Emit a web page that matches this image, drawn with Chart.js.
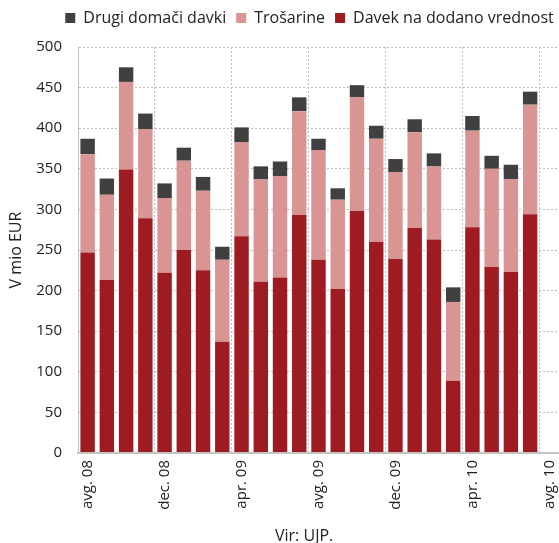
<!DOCTYPE html>
<html>
<head>
<meta charset="utf-8">
<script src="https://cdn.jsdelivr.net/npm/chart.js@4"></script>
<style>
  body { margin: 0; background: #fff; }
  #wrap { position: relative; width: 559px; height: 543px; overflow: hidden; }
  #source {
    position: absolute; left: 275px; top: 527px;
    font: 16px "Open Sans"; line-height: 16px; color: #222;
  }
</style>
</head>
<body>
<div id="wrap">
  <canvas id="chart" width="559" height="543"></canvas>
  <div id="source">Vir: UJP.</div>
</div>
<script>
// months avg. 08 .. avg. 10 (last month has no data yet)
const months = [
  "avg. 08", "sep. 08", "okt. 08", "nov. 08", "dec. 08", "jan. 09", "feb. 09",
  "mar. 09", "apr. 09", "maj 09", "jun. 09", "jul. 09", "avg. 09", "sep. 09",
  "okt. 09", "nov. 09", "dec. 09", "jan. 10", "feb. 10", "mar. 10", "apr. 10",
  "maj 10", "jun. 10", "jul. 10", "avg. 10"
];

// V mio EUR
const ddv = [247, 213, 349, 289, 222, 250, 225, 137, 267, 211, 216, 293, 238,
  202, 298, 260, 239, 277, 263, 89, 278, 229, 223, 294, null];
const trosarine = [121, 105, 108, 110, 92, 110, 98, 101, 116, 126, 125, 128, 135,
  110, 140, 127, 107, 118, 90, 97, 119, 121, 114, 135, null];
const drugi = [19, 20, 18, 19, 18, 16, 17, 16, 18, 16, 18, 17, 14,
  14, 15, 16, 16, 16, 16, 18, 18, 16, 18, 16, null];

const yTicks = [0, 50, 100, 150, 200, 250, 300, 350, 400, 450, 500];

const FONT = "'Open Sans', sans-serif";
const TEXT = "#222";
const GRID = "#bdbdbd";

// legend sits higher than the plot top and a bit right of centre
const legendSpacer = {
  id: "legendSpacer",
  beforeInit(chart) {
    const fit = chart.legend.fit;
    chart.legend.fit = function () {
      fit.call(this);
      this.height = 47;
    };
  },
  afterLayout(chart) {
    chart.legend.left += 30;
    chart.legend.right += 30;
  },
};

new Chart(document.getElementById("chart"), {
  type: "bar",
  data: {
    labels: months,
    datasets: [
      { label: "Davek na dodano vrednost", data: ddv, backgroundColor: "#9e1b21" },
      { label: "Trošarine", data: trosarine, backgroundColor: "#d99594" },
      { label: "Drugi domači davki", data: drugi, backgroundColor: "#404040" },
    ],
  },
  options: {
    responsive: false,
    animation: false,
    layout: { padding: 0 },
    datasets: {
      bar: { barPercentage: 1, categoryPercentage: 0.75 },
    },
    plugins: {
      legend: {
        reverse: true,
        labels: {
          font: { family: FONT, size: 16 },
          color: TEXT,
          boxWidth: 10,
          boxHeight: 10,
          padding: 10,
        },
      },
      tooltip: { enabled: false },
    },
    scales: {
      x: {
        stacked: true,
        grid: {
          offset: true,
          drawTicks: false,
          color: (ctx) => (ctx.index % 4 === 0 ? GRID : "rgba(0,0,0,0)"),
        },
        border: { color: "#c4c4c4", width: 2, dash: [2, 2], z: 1 },
        ticks: {
          autoSkip: false,
          maxRotation: 90,
          minRotation: 90,
          padding: 7,
          color: TEXT,
          font: { family: FONT, size: 15 },
          callback: (value, i) => (i % 4 === 0 ? months[i] : ""),
        },
        afterFit: (scale) => {
          scale.height = 90;
          scale.paddingRight = 0;
        },
      },
      y: {
        stacked: true,
        min: 0,
        max: 500,
        afterBuildTicks: (scale) => {
          scale.ticks = yTicks.map((v) => ({ value: v }));
        },
        grid: { drawTicks: false, color: GRID },
        border: { color: "#c4c4c4", width: 1, dash: [2, 2], z: 1 },
        ticks: {
          padding: 16,
          color: TEXT,
          font: { family: FONT, size: 15 },
        },
        title: {
          display: true,
          text: "V mio EUR",
          color: TEXT,
          font: { family: FONT, size: 16 },
          padding: { top: 7, bottom: 0 },
        },
        afterFit: (scale) => {
          scale.width = 78;
        },
      },
    },
  },
  plugins: [legendSpacer],
});
</script>
</body>
</html>
